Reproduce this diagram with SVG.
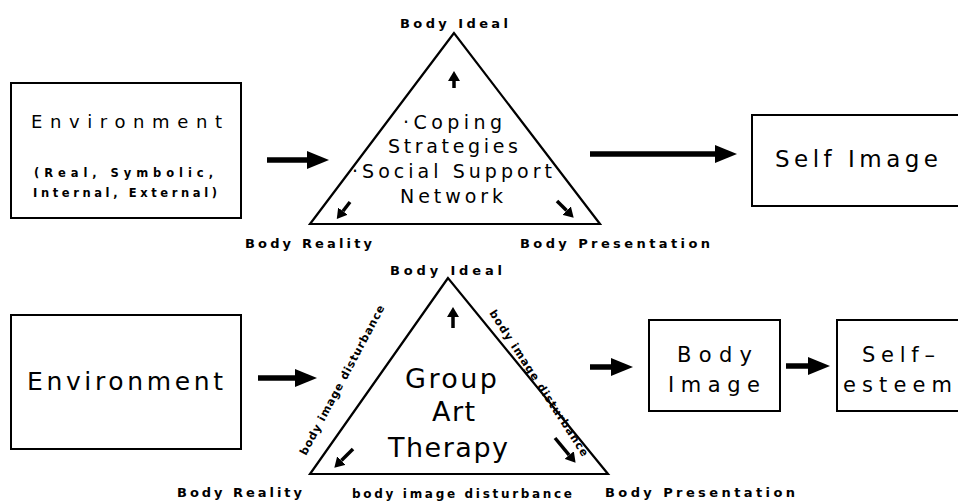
<svg xmlns="http://www.w3.org/2000/svg" width="958" height="502" viewBox="0 0 958 502">
<style>
.box{fill:#fff;stroke:#000;stroke-width:2}
.tri{fill:none;stroke:#000;stroke-width:2.2;stroke-linejoin:miter}
.t{font-family:"DejaVu Sans","Liberation Sans",Arial,sans-serif;fill:#000}
.b{font-family:"DejaVu Sans","Liberation Sans",Arial,sans-serif;font-weight:bold;fill:#000}
.big{stroke:#000;stroke-width:5.5;fill:none}
.sm{stroke:#000;stroke-width:3.5;fill:none}
</style>
<defs>
<marker id="bh" markerUnits="userSpaceOnUse" markerWidth="22" markerHeight="18" refX="0" refY="9" orient="auto"><path d="M0,0 L22,9 L0,18 z" fill="#000"/></marker>
<marker id="sh" markerUnits="userSpaceOnUse" markerWidth="10" markerHeight="12" refX="0" refY="6" orient="auto"><path d="M0,0 L10,6 L0,12 z" fill="#000"/></marker>
</defs>
<rect width="958" height="502" fill="#fff"/>

<g id="environment-top">
<rect class="box" x="11" y="83" width="230" height="135"/>
<text class="t" x="31" y="128" font-size="18" textLength="191" lengthAdjust="spacing">Environment</text>
<text class="b" x="34" y="177" font-size="11.5" textLength="179" lengthAdjust="spacing">(Real, Symbolic,</text>
<text class="b" x="33" y="197" font-size="11.5" textLength="184" lengthAdjust="spacing">Internal, External)</text>
</g>

<g id="triangle-top">
<polygon class="tri" points="454,33 310,224 600,224"/>
<text class="b" x="400" y="28" font-size="13" textLength="108" lengthAdjust="spacing">Body Ideal</text>
<text class="t" x="403" y="129" font-size="19" textLength="99" lengthAdjust="spacing">·Coping</text>
<text class="t" x="388" y="153" font-size="19" textLength="130" lengthAdjust="spacing">Strategies</text>
<text class="t" x="352" y="178" font-size="19" textLength="200" lengthAdjust="spacing">·Social Support</text>
<text class="t" x="400" y="203" font-size="19" textLength="103" lengthAdjust="spacing">Network</text>
<text class="b" x="245" y="248" font-size="13" textLength="127" lengthAdjust="spacing">Body Reality</text>
<text class="b" x="520" y="248" font-size="13" textLength="190" lengthAdjust="spacing">Body Presentation</text>
<line class="sm" x1="454" y1="88" x2="454" y2="81" marker-end="url(#sh)"/>
<line class="sm" x1="350" y1="202" x2="342.9" y2="211.2" marker-end="url(#sh)"/>
<line class="sm" x1="557" y1="201" x2="566.6" y2="210.6" marker-end="url(#sh)"/>
</g>

<g id="self-image">
<rect class="box" x="752" y="115" width="220" height="91"/>
<text class="t" x="775" y="167" font-size="23" textLength="163" lengthAdjust="spacing">Self Image</text>
</g>

<g id="environment-bottom">
<rect class="box" x="11" y="315" width="230" height="134"/>
<text class="t" x="27" y="390" font-size="25" textLength="196" lengthAdjust="spacing">Environment</text>
</g>

<g id="triangle-bottom">
<polygon class="tri" points="448,278 310,474 608,474"/>
<text class="b" x="390" y="275" font-size="13" textLength="112" lengthAdjust="spacing">Body Ideal</text>
<text class="t" x="405" y="388" font-size="27" textLength="92" lengthAdjust="spacing">Group</text>
<text class="t" x="432" y="421" font-size="27" textLength="43" lengthAdjust="spacing">Art</text>
<text class="t" x="388" y="457" font-size="27" textLength="120" lengthAdjust="spacing">Therapy</text>
<text class="b" font-size="11" transform="translate(306,456) rotate(-62)" textLength="168" lengthAdjust="spacing">body image disturbance</text>
<text class="b" font-size="11" transform="translate(489,313) rotate(57)" textLength="172" lengthAdjust="spacing">body image disturbance</text>
<text class="b" x="352" y="498" font-size="12" textLength="220" lengthAdjust="spacing">body image disturbance</text>
<text class="b" x="177" y="497" font-size="13" textLength="125" lengthAdjust="spacing">Body Reality</text>
<text class="b" x="605" y="497" font-size="13" textLength="190" lengthAdjust="spacing">Body Presentation</text>
<line class="sm" x1="453" y1="328" x2="453" y2="317" marker-end="url(#sh)"/>
<line class="sm" x1="353" y1="449" x2="341.4" y2="460.6" marker-end="url(#sh)"/>
<line class="sm" x1="555" y1="438" x2="569.2" y2="455.1" marker-end="url(#sh)"/>
</g>

<g id="body-image">
<rect class="box" x="649" y="320" width="131" height="91"/>
<text class="t" x="677" y="362" font-size="21" textLength="75" lengthAdjust="spacing">Body</text>
<text class="t" x="668" y="392" font-size="21" textLength="92" lengthAdjust="spacing">Image</text>
</g>

<g id="self-esteem">
<rect class="box" x="837" y="320" width="140" height="91"/>
<text class="t" x="862" y="362" font-size="21" textLength="73" lengthAdjust="spacing">Self–</text>
<text class="t" x="843" y="392" font-size="21" textLength="109" lengthAdjust="spacing">esteem</text>
</g>

<g id="connectors">
<line class="big" x1="267" y1="160" x2="307" y2="160" marker-end="url(#bh)"/>
<line class="big" x1="590" y1="154" x2="715" y2="154" marker-end="url(#bh)"/>
<line class="big" x1="258" y1="378" x2="295" y2="378" marker-end="url(#bh)"/>
<line class="big" x1="590" y1="367" x2="611" y2="367" marker-end="url(#bh)"/>
<line class="big" x1="786" y1="366" x2="808" y2="366" marker-end="url(#bh)"/>
</g>
</svg>
